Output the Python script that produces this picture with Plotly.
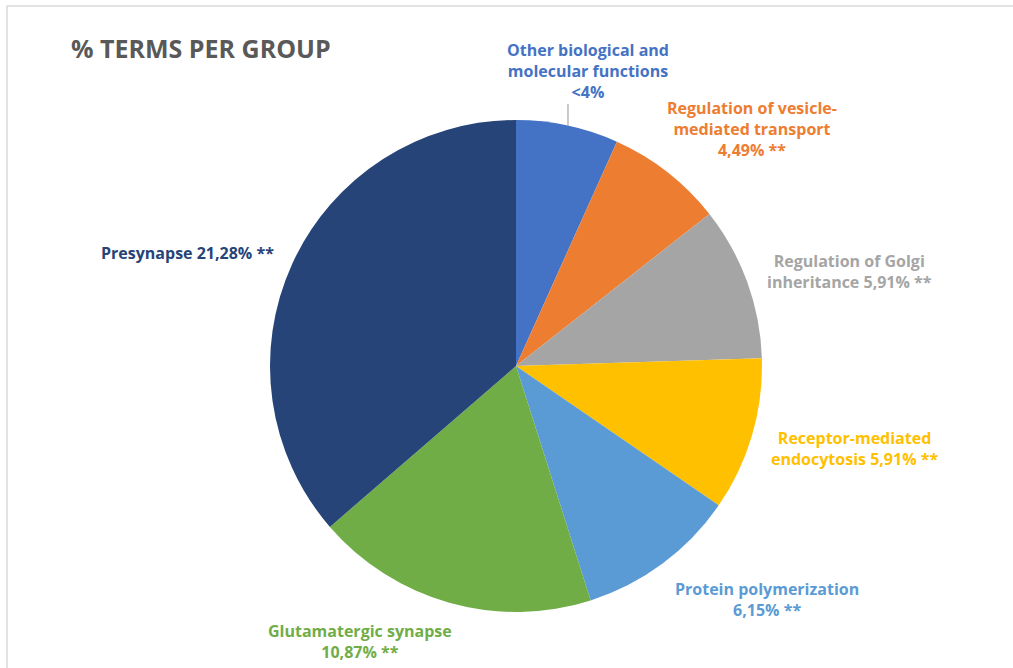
import plotly.graph_objects as go

# Share of enriched terms per functional group (percent)
groups = [
    "Other biological and molecular functions",
    "Regulation of vesicle-mediated transport",
    "Regulation of Golgi inheritance",
    "Receptor-mediated endocytosis",
    "Protein polymerization",
    "Glutamatergic synapse",
    "Presynapse",
]
shares = [3.94, 4.49, 5.91, 5.91, 6.15, 10.87, 21.28]
label_texts = [
    "Other biological and<br>molecular functions<br><4%",
    "Regulation of vesicle-<br>mediated transport<br>4,49% **",
    "Regulation of Golgi<br>inheritance 5,91% **",
    "Receptor-mediated<br>endocytosis 5,91% **",
    "Protein polymerization<br>6,15% **",
    "Glutamatergic synapse<br>10,87% **",
    "Presynapse 21,28% **",
]
colors = ["#4472C4", "#ED7D31", "#A5A5A5", "#FFC000", "#5B9BD5", "#70AD47", "#264478"]

W, H = 1013, 668
# label anchor points (pixels, centre of text block)
label_pos = [
    (588, 71),
    (752, 129),
    (849, 271),
    (854, 448),
    (767, 599),
    (360, 641),
    (187, 253),
]

fig = go.Figure()
fig.add_trace(go.Pie(
    labels=groups,
    values=shares,
    marker=dict(colors=colors, line=dict(width=0)),
    sort=False,
    direction="clockwise",
    rotation=0,
    textinfo="none",
    hoverinfo="label+percent",
    showlegend=False,
    domain=dict(x=[270 / W, 762 / W], y=[1 - 612 / H, 1 - 120 / H]),
))

annotations = [dict(
    x=69 / W, y=1 - 48 / H, xref="paper", yref="paper",
    xanchor="left", yanchor="middle", showarrow=False,
    text="<b>% TERMS PER GROUP</b>",
    font=dict(family="Open Sans", size=25, color="#595959"),
)]
for txt, col, (px, py) in zip(label_texts, colors, label_pos):
    annotations.append(dict(
        x=px / W, y=1 - py / H, xref="paper", yref="paper",
        xanchor="center", yanchor="middle", showarrow=False,
        text=txt, align="center",
        font=dict(family="Open Sans", size=16, color=col, weight=700),
    ))

shapes = [
    # chart frame
    dict(type="rect", xref="paper", yref="paper",
         x0=7 / W, x1=1.2, y0=-0.2, y1=1 - 6 / H,
         line=dict(color="#D9D9D9", width=1.5), fillcolor="rgba(0,0,0,0)"),
    # leader line for the smallest slice
    dict(type="line", xref="paper", yref="paper",
         x0=568 / W, x1=568 / W, y0=1 - 104 / H, y1=1 - 126 / H,
         line=dict(color="#A6A6A6", width=1.2)),
]

fig.update_layout(
    width=W, height=H,
    margin=dict(l=0, r=0, t=0, b=0),
    paper_bgcolor="white",
    plot_bgcolor="white",
    annotations=annotations,
    shapes=shapes,
)

fig.write_html("out.html")
